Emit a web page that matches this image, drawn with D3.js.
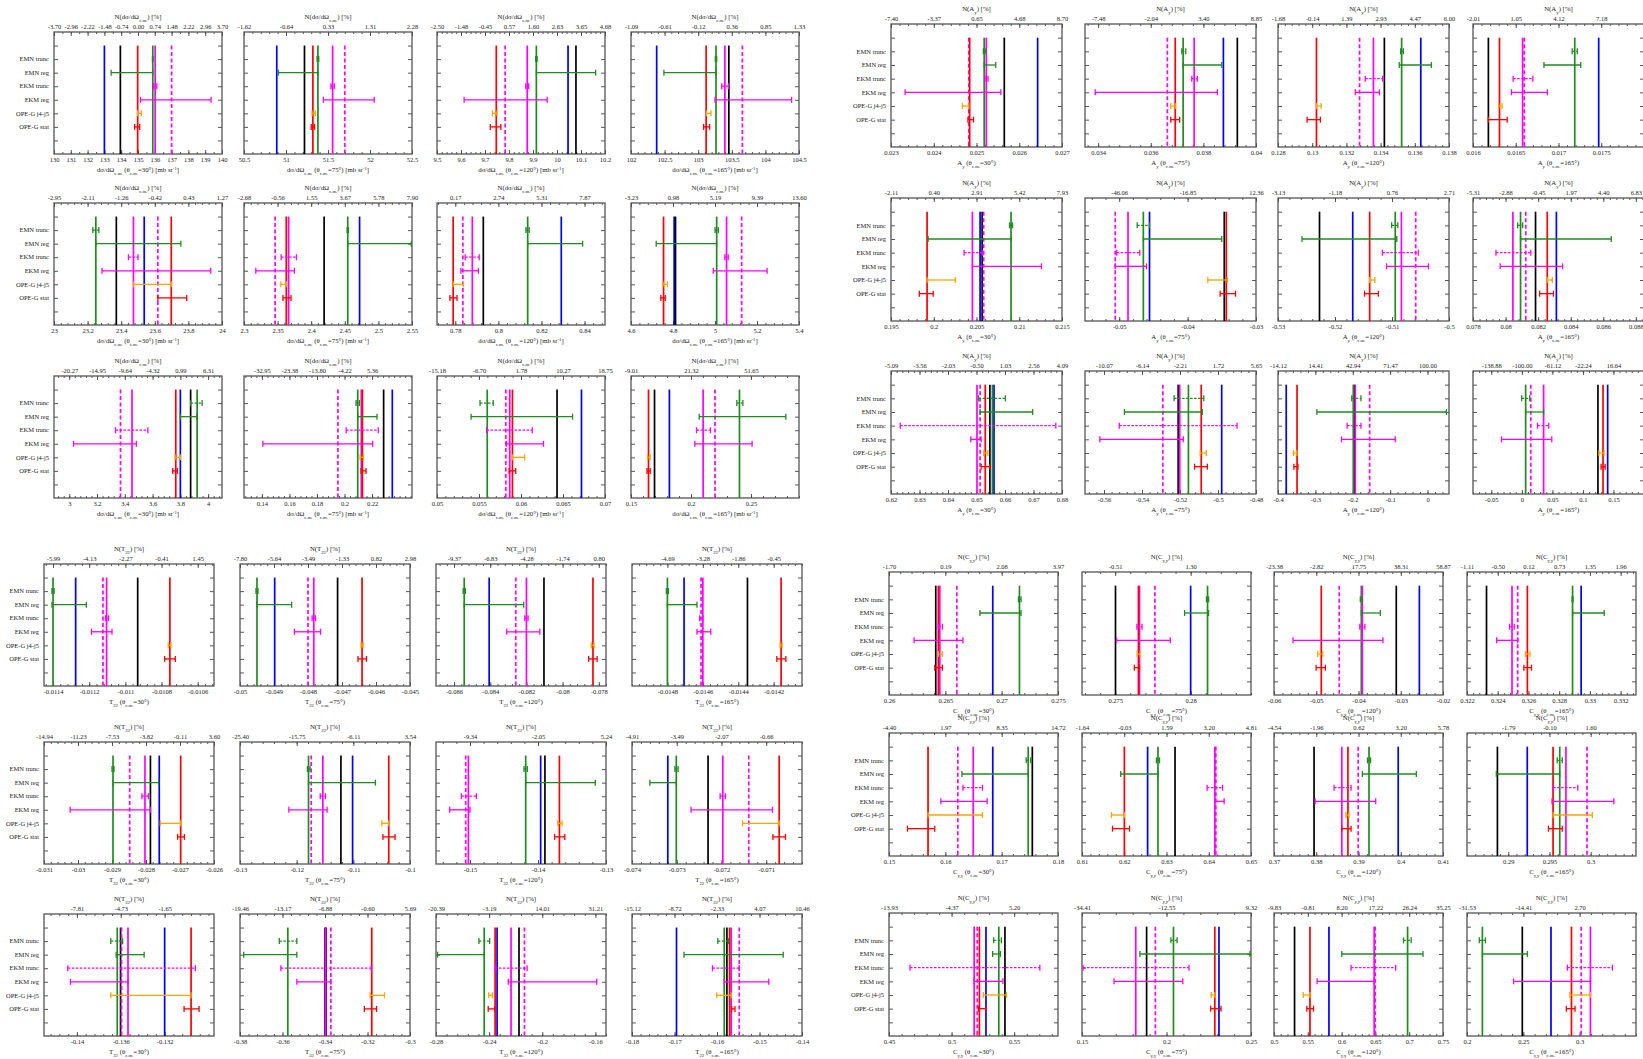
<!DOCTYPE html>
<html>
<head>
<meta charset="utf-8">
<script src="https://cdn.jsdelivr.net/npm/d3@7"></script>
<style>
body{margin:0;background:#fff;}
</style>
</head>
<body>
<svg id="fig"></svg>
<script>
var W=1643,H=1059;
var FONT="Liberation Serif, Times New Roman, serif";

var rowNames=["EMN trunc","EMN reg","EKM trunc","EKM reg","OPE-G j4-j5","OPE-G stat"];
var angles=[30,75,120,165];

// panel order: dsigma/dOmega rows 1-3, A_y rows 1-3, T22 rows 1-3, C_yy rows 1-3 (4 angles each)
var domains=[
 [130,140],[50.5,52.5],[9.5,10.2],[102,104.5],
 [23,24],[2.3,2.55],[0.7715,0.8495],[4.6,5.4],
 [2.89,4.1],[0.127,0.249],[0.05,0.07],[0.15,0.29],
 [0.023,0.027],[0.0335,0.04],[0.128,0.138],[0.016,0.018],
 [0.195,0.215],[-0.055,-0.03],[-0.53,-0.5],[0.078,0.0885],
 [0.62,0.68],[-0.57,-0.48],[-0.4,0.0575],[-0.08,0.2],
 [-0.01145,-0.01051],[-0.05,-0.045],[-0.087,-0.0776],[-0.015,-0.01404],
 [-0.031,-0.026],[-0.13,-0.1],[-0.155,-0.13],[-0.074,-0.0702],
 [-0.143,-0.1275],[-0.38,-0.3],[-0.28,-0.152],[-0.18,-0.14],
 [0.26,0.275],[0.2728,0.284],[-0.06,-0.02],[0.322,0.333],
 [0.15,0.18],[0.61,0.65],[0.37,0.41],[0.285,0.3055],
 [0.45,0.585],[0.15,0.25],[0.5,0.75],[0.2,0.35]
];

var ticks=[
 [130,131,132,133,134,135,136,137,138,139,140],[50.5,51,51.5,52,52.5],[9.5,9.6,9.7,9.8,9.9,10,10.1,10.2],[102,102.5,103,103.5,104,104.5],
 [23,23.2,23.4,23.6,23.8,24],[2.3,2.35,2.4,2.45,2.5,2.55],[0.78,0.8,0.82,0.84],[4.6,4.8,5,5.2,5.4],
 [3,3.2,3.4,3.6,3.8,4],[0.14,0.16,0.18,0.2,0.22],[0.05,0.055,0.06,0.065,0.07],[0.15,0.2,0.25],
 [0.023,0.024,0.025,0.026,0.027],[0.034,0.036,0.038,0.04],[0.128,0.13,0.132,0.134,0.136,0.138],[0.016,0.0165,0.017,0.0175],
 [0.195,0.2,0.205,0.21,0.215],[-0.05,-0.04,-0.03],[-0.53,-0.52,-0.51,-0.5],[0.078,0.08,0.082,0.084,0.086,0.088],
 [0.62,0.63,0.64,0.65,0.66,0.67,0.68],[-0.56,-0.54,-0.52,-0.5,-0.48],[-0.4,-0.3,-0.2,-0.1,0],[-0.05,0,0.05,0.1,0.15],
 [-0.0114,-0.0112,-0.011,-0.0108,-0.0106],[-0.05,-0.049,-0.048,-0.047,-0.046,-0.045],[-0.086,-0.084,-0.082,-0.08,-0.078],[-0.0148,-0.0146,-0.0144,-0.0142],
 [-0.031,-0.03,-0.029,-0.028,-0.027,-0.026],[-0.13,-0.12,-0.11,-0.1],[-0.15,-0.14,-0.13],[-0.074,-0.073,-0.072,-0.071],
 [-0.14,-0.136,-0.132],[-0.38,-0.36,-0.34,-0.32,-0.3],[-0.28,-0.24,-0.2,-0.16],[-0.18,-0.17,-0.16,-0.15,-0.14],
 [0.26,0.265,0.27,0.275],[0.275,0.28],[-0.06,-0.05,-0.04,-0.03,-0.02],[0.322,0.324,0.326,0.328,0.33,0.332],
 [0.15,0.16,0.17,0.18],[0.61,0.62,0.63,0.64,0.65],[0.37,0.38,0.39,0.4,0.41],[0.29,0.295,0.3],
 [0.45,0.5,0.55],[0.15,0.2,0.25],[0.5,0.55,0.6,0.65,0.7,0.75],[0.2,0.25,0.3]
];

// reference value for the N(...) [%] axis on top
var refs=[
 135.0,51.33,9.744,103.124, 23.699,2.3633,0.77868,4.7535, 3.7626,0.20881,0.058948,0.16485,
 0.024838,0.036749,0.130187,0.016328, 0.199203,-0.034232,-0.51392,0.082374, 0.65325,-0.50877,-0.35051,0.1286,
 -0.010756,-0.046382,-0.078632,-0.014137, -0.02697,-0.10367,-0.137187,-0.070537, -0.129858,-0.3181,-0.23258,-0.15636,
 0.264496,0.27641,-0.04863,0.325614, 0.156904,0.62017,0.3876,0.29529, 0.52283,0.22869,0.55451,0.2921
];

var blueLine=[
 133.0,50.89,10.046,102.382, 23.537,2.472,0.8292,4.8055, 3.80,0.2347,0.0672,0.182,
 0.02643,0.03876,0.13635,0.01747, 0.20542,-0.04557,-0.51689,0.08312, 0.65614,-0.49806,-0.378,0.1405,
 -0.011275,-0.04898,-0.08406,-0.014706, -0.02761,-0.11013,-0.13961,-0.0732, -0.132,-0.3395,-0.234,-0.16953,
 0.26921,0.28,-0.02559,0.32943, 0.16842,0.62553,0.3994,0.29231, 0.52746,0.23104,0.5813,0.27455
];
var blackLine=[
 133.95,51.22,10.079,103.456, 23.371,2.4192,0.793,4.812, 3.874,0.2284,0.06429,0.1696,
 0.02565,0.03929,0.13422,0.01618, 0.20566,-0.03464,-0.52272,0.08184, 0.6547,-0.52096,-0.1959,0.1246,
 -0.010932,-0.04713,-0.08103,-0.014348, -0.02787,-0.11219,-0.13898,-0.0723, -0.13602,-0.34,-0.2175,-0.15767,
 0.26415,0.27502,-0.03106,0.32327, 0.17544,0.63202,0.37948,0.28869, 0.54262,0.18823,0.5304,0.24909
];
var redLine=[
 134.98,51.32,9.747,103.118, 23.698,2.3629,0.779,4.755, 3.767,0.213,0.05898,0.1646,
 0.02484,0.03693,0.13025,0.01631, 0.19922,-0.03434,-0.51392,0.08256, 0.65307,-0.50883,-0.349,0.1329,
 -0.010754,-0.04641,-0.07832,-0.014158, -0.02698,-0.10375,-0.13685,-0.07071, -0.12959,-0.318,-0.2355,-0.15703,
 0.26438,0.27654,-0.04881,0.32593, 0.15693,0.62003,0.3875,0.29544, 0.5222,0.22859,0.5532,0.29273
];
var greenLine=[
 135.88,51.38,9.914,103.265, 23.249,2.4544,0.8136,5.008, 3.921,0.2096,0.05598,0.2404,
 0.02518,0.03723,0.13523,0.01719, 0.20904,-0.04647,-0.50943,0.08092, 0.6556,-0.51557,-0.1986,0.0062,
 -0.0114,-0.0495,-0.08544,-0.0148, -0.02897,-0.11791,-0.14181,-0.07301, -0.13632,-0.3575,-0.2437,-0.1583,
 0.27158,0.28112,-0.03933,0.32887, 0.17471,0.62798,0.39249,0.29625, 0.5377,0.20413,0.6976,0.21364
];
var magLine=[
 136.02,51.555,9.876,103.397, 23.473,2.3664,0.7879,5.055, 3.452,0.2122,0.05866,0.2101,
 0.02523,0.03765,0.13358,0.01658, 0.20452,-0.04871,-0.50835,0.08045, 0.65018,-0.52015,-0.1932,0.0356,
 -0.011104,-0.04783,-0.082,-0.0146, -0.02803,-0.11538,-0.15024,-0.07197, -0.13534,-0.3398,-0.2235,-0.15666,
 0.26451,0.27661,-0.03909,0.32493, 0.16495,0.64144,0.38605,0.297, 0.51803,0.1818,0.6482,0.30955
];
var magDashLine=[
 137.0,51.70,9.784,103.657, 23.618,2.3463,0.7835,5.127, 3.369,0.1952,0.05819,0.22,
 0.02482,0.03663,0.13277,0.0166, 0.20584,-0.05058,-0.50584,0.08124, 0.65127,-0.52904,-0.1548,0.0146,
 -0.011124,-0.048,-0.08259,-0.01461, -0.02848,-0.11744,-0.15063,-0.07139, -0.13593,-0.33725,-0.2134,-0.15476,
 0.26602,0.27763,-0.04456,0.3253, 0.16222,0.64168,0.38993,0.29956, 0.52049,0.19343,0.6497,0.30136
];

var emnTrunc=[
 [135.86,135.9],[51.37,51.39],[9.911,9.917],[103.255,103.275],
 [23.231,23.267],[2.4535,2.4555],[0.8128,0.8143],[5.0,5.016],
 [3.874,3.957],[0.2084,0.2108],[0.05512,0.05669],[0.2382,0.2432],
 [0.02516,0.02522],[0.03718,0.03733],[0.13517,0.13533],[0.01716,0.01722],
 [0.20886,0.20922],[-0.04737,-0.04557],[-0.51006,-0.50898],[0.08074,0.08105],
 [0.65073,0.66013],[-0.52311,-0.50748],[-0.2027,-0.178],[-0.0003,0.0129],
 [-0.011406,-0.011394],[-0.04953,-0.04947],[-0.0855,-0.08538],[-0.014806,-0.014794],
 [-0.029,-0.02894],[-0.1181,-0.11763],[-0.14205,-0.14157],[-0.07304,-0.07297],
 [-0.13691,-0.13583],[-0.3615,-0.35325],[-0.2477,-0.2396],[-0.15981,-0.15729],
 [0.27149,0.27172],[0.28105,0.28119],[-0.03957,-0.03909],[0.32884,0.3289],
 [0.17435,0.17517],[0.62761,0.62835],[0.39213,0.39286],[0.29594,0.29656],
 [0.5336,0.53975],[0.2026,0.20627],[0.6915,0.7029],[0.21091,0.21636]
];
var emnReg=[
 [133.4,135.88],[50.91,51.38],[9.914,10.161],[102.49,103.265],
 [23.249,23.755],[2.4544,2.549],[0.8136,0.8391],[4.72,5.008],
 [3.80,3.919],[0.2096,0.2236],[0.05406,0.06614],[0.2068,0.279],
 [0.02518,0.02545],[0.03723,0.0387],[0.13509,0.13697],[0.01683,0.01726],
 [0.19934,0.20904],[-0.04647,-0.03501],[-0.52578,-0.50916],[0.08092,0.08649],
 [0.65127,0.6697],[-0.54925,-0.50829],[-0.2959,0.0507],[0.0062,0.0356],
 [-0.011406,-0.011216],[-0.0495,-0.04848],[-0.08544,-0.08215],[-0.0148,-0.014633],
 [-0.02897,-0.02763],[-0.11791,-0.1061],[-0.14181,-0.13157],[-0.0736,-0.07301],
 [-0.13642,-0.13387],[-0.37825,-0.35325],[-0.2788,-0.2437],[-0.16776,-0.14442],
 [0.26807,0.27172],[0.2796,0.28119],[-0.03933,-0.03483],[0.32887,0.33093],
 [0.16295,0.17471],[0.61917,0.62798],[0.39091,0.40368],[0.28856,0.29625],
 [0.53279,0.53893],[0.18425,0.24939],[0.6003,0.7204],[0.21364,0.25364]
];
var ekmTrunc=[
 [135.93,136.12],[51.535,51.575],[9.870,9.882],[103.35,103.45],
 [23.443,23.5],[2.3553,2.378],[0.7846,0.7911],[5.047,5.063],
 [3.333,3.566],[0.2012,0.2245],[0.0559,0.06134],[0.2046,0.2162],
 [0.0252,0.02527],[0.03756,0.03777],[0.1331,0.13412],[0.01647,0.0167],
 [0.20355,0.20572],[-0.05036,-0.04699],[-0.51168,-0.50539],[0.07941,0.08155],
 [0.62325,0.67783],[-0.55195,-0.48997],[-0.2151,-0.178],[0.0256,0.044],
 [-0.01111,-0.011093],[-0.04788,-0.04778],[-0.08209,-0.08191],[-0.014618,-0.0146],
 [-0.02812,-0.02793],[-0.11584,-0.11491],[-0.15126,-0.14906],[-0.07203,-0.07191],
 [-0.14083,-0.1292],[-0.36075,-0.31825],[-0.2356,-0.2114],[-0.16107,-0.15476],
 [0.26438,0.26474],[0.27644,0.27678],[-0.03969,-0.03848],[0.32477,0.32507],
 [0.16313,0.16659],[0.6396,0.64327],[0.38422,0.38824],[0.29544,0.29844],
 [0.4668,0.57049],[0.15061,0.2133],[0.614,0.6801],[0.28909,0.32909]
];
var ekmReg=[
 [135.15,139.35],[51.445,52.05],[9.613,9.959],[103.25,104.39],
 [23.286,23.933],[2.3176,2.375],[0.7826,0.7907],[4.992,5.248],
 [3.031,3.483],[0.1407,0.2204],[0.05827,0.06268],[0.2032,0.2509],
 [0.02333,0.02557],[0.03389,0.03853],[0.13252,0.13393],[0.01645,0.01687],
 [0.20452,0.2126],[-0.05058,-0.04602],[-0.51096,-0.5036],[0.07967,0.0835],
 [0.64801,0.65163],[-0.56218,-0.51826],[-0.2301,-0.0863],[-0.0333,0.049],
 [-0.011187,-0.011074],[-0.0484,-0.04763],[-0.08309,-0.08126],[-0.014633,-0.014555],
 [-0.03023,-0.02787],[-0.12137,-0.11463],[-0.15299,-0.15],[-0.07268,-0.07086],
 [-0.14059,-0.13534],[-0.35325,-0.33725],[-0.2256,-0.159],[-0.1583,-0.14782],
 [0.26223,0.26656],[0.27509,0.27865],[-0.0555,-0.03422],[0.32393,0.3253],
 [0.15921,0.16742],[0.64144,0.64364],[0.37973,0.39407],[0.29531,0.30281],
 [0.51803,0.54098],[0.16896,0.20963],[0.5638,0.6482],[0.24136,0.30955]
];
var opeJ45=[
 [134.98,135.2],[51.31,51.35],[9.731,9.75],[103.12,103.19],
 [23.473,23.698],[2.3548,2.3629],[0.779,0.7838],[4.752,4.774],
 [3.762,3.80],[0.2113,0.2137],[0.05898,0.06043],[0.1638,0.166],
 [0.02467,0.02482],[0.03676,0.03695],[0.13025,0.13052],[0.0163,0.01634],
 [0.19922,0.20253],[-0.03704,-0.03419],[-0.51392,-0.51302],[0.08256,0.08287],
 [0.65253,0.65398],[-0.50937,-0.50614],[-0.3589,-0.3493],[0.1262,0.1347],
 [-0.010763,-0.010748],[-0.04644,-0.04638],[-0.07841,-0.07826],[-0.014164,-0.014152],
 [-0.02758,-0.02698],[-0.10497,-0.10375],[-0.13709,-0.13646],[-0.07153,-0.07071],
 [-0.13691,-0.12959],[-0.31875,-0.312],[-0.2403,-0.2376],[-0.16006,-0.15666],
 [0.26438,0.26474],[0.27645,0.27665],[-0.04967,-0.04845],[0.3258,0.3261],
 [0.15693,0.16659],[0.61697,0.62003],[0.38702,0.38775],[0.29544,0.3002],
 [0.52541,0.54385],[0.22645,0.22859],[0.5433,0.5532],[0.29136,0.30955]
];
var opeStat=[
 [134.8,135.1],[51.30,51.34],[9.722,9.766],[103.08,103.17],
 [23.618,23.79],[2.358,2.370],[0.7775,0.7808],[4.742,4.763],
 [3.745,3.779],[0.212,0.2156],[0.05858,0.05937],[0.1633,0.166],
 [0.0248,0.02493],[0.03676,0.0371],[0.1297,0.13048],[0.01618,0.0164],
 [0.19831,0.19994],[-0.03524,-0.03299],[-0.51482,-0.51239],[0.08209,0.08294],
 [0.65163,0.6547],[-0.51233,-0.5056],[-0.3575,-0.3466],[0.1297,0.1364],
 [-0.010783,-0.010724],[-0.04653,-0.04628],[-0.07856,-0.07809],[-0.014182,-0.014131],
 [-0.02707,-0.02687],[-0.10478,-0.10263],[-0.13756,-0.13606],[-0.07085,-0.07057],
 [-0.13023,-0.12886],[-0.3215,-0.31575],[-0.2407,-0.2356],[-0.15653,-0.15577],
 [0.26406,0.26474],[0.27627,0.27661],[-0.05003,-0.04784],[0.3257,0.3262],
 [0.15328,0.15812],[0.61722,0.62125],[0.38605,0.38824],[0.29488,0.29656],
 [0.52131,0.52746],[0.22615,0.23226],[0.5486,0.5585],[0.28818,0.29591]
];

var GREEN="#1e8c1e",MAG="#ff00ff",RED="#ff0000",BLUE="#0000ff",ORANGE="#ffa500";

// layout of the four blocks of 3x4 panels
var blocks=[
 {q:"dsg",lefts:[54,244,437,631],w:168,tops:[32,203,376],h:122},
 {q:"A",lefts:[891,1085,1278,1473],w:171,tops:[24,198,371],h:123},
 {q:"T",lefts:[44,240,436,632],w:170,tops:[564,742,914],h:122},
 {q:"C",lefts:[889,1082,1274,1467],w:169,tops:[572,733,913],h:123}
];

var svg=d3.select("#fig").attr("width",W).attr("height",H);
svg.append("rect").attr("width",W).attr("height",H).attr("fill","#fff");

function symbol(q){
  if(q=="dsg") return [["d\u03c3/d\u03a9",""],["c.m.","sub"]];
  if(q=="A") return [["A",""],["y","sub"]];
  if(q=="T") return [["T",""],["22","sub"]];
  return [["C",""],["y,y","sub"]];
}
function topTitle(q){
  return [["N(",""]].concat(symbol(q)).concat([[") [%]",""]]);
}
function botTitle(q,a){
  var p=symbol(q).concat([[" (\u03b8",""],["c.m.","sub"],["="+a+"\u00b0)",""]]);
  if(q=="dsg") p=p.concat([[" [mb sr",""],["-1","sup"],["]",""]]);
  return p;
}
function rich(sel,parts,size){
  parts.forEach(function(p){
    var t=sel.append("tspan").text(p[0]);
    if(p[1]=="sub") t.attr("baseline-shift","sub").attr("font-size",size*0.7);
    if(p[1]=="sup") t.attr("baseline-shift","super").attr("font-size",size*0.7);
  });
}
function styleAxis(a){
  a.select(".domain").remove();
  a.selectAll("line").attr("stroke","#444").attr("stroke-width",0.9);
  a.selectAll("text").attr("font-family",FONT).attr("font-size",6.5).attr("fill","#222");
}

function panel(i,x0,y0,w,h,q,angle,names){
  var x=d3.scaleLinear().domain(domains[i]).range([x0,x0+w]);
  var y=d3.scaleLinear().domain([0,9]).range([y0,y0+h]);
  var g=svg.append("g");
  var t=ticks[i],step=t[1]-t[0],dd=domains[i],ref=refs[i];
  var nsub=Math.abs(x(t[1])-x(t[0]))<22?2:5;
  var ms=step/nsub,minor=[];
  for(var k=Math.ceil((dd[0]-t[0])/ms-1e-6);t[0]+k*ms<=dd[1]+ms*1e-6;k++) minor.push(t[0]+k*ms);
  var pct=function(v){return ((v-ref)/Math.abs(ref)*100).toFixed(2);};

  g.append("g").attr("transform","translate(0,"+(y0+h)+")")
   .call(d3.axisBottom(x).tickValues(minor).tickSize(-2).tickFormat("")).call(styleAxis);
  g.append("g").attr("transform","translate(0,"+(y0+h)+")")
   .call(d3.axisBottom(x).tickValues(t).tickSize(-4).tickPadding(3).tickFormat(String)).call(styleAxis);
  g.append("g").attr("transform","translate(0,"+y0+")")
   .call(d3.axisTop(x).tickValues(minor).tickSize(-2).tickFormat("")).call(styleAxis);
  g.append("g").attr("transform","translate(0,"+y0+")")
   .call(d3.axisTop(x).tickValues(t).tickSize(-4).tickPadding(3).tickFormat(pct)).call(styleAxis);
  var yt=[1,2,3,4,5,6,7,8];
  g.append("g").attr("transform","translate("+x0+",0)")
   .call(d3.axisLeft(y).tickValues(yt).tickSize(-4).tickFormat("")).call(styleAxis);
  g.append("g").attr("transform","translate("+(x0+w)+",0)")
   .call(d3.axisRight(y).tickValues(yt).tickSize(-4).tickFormat("")).call(styleAxis);

  g.append("rect").attr("x",x0).attr("y",y0).attr("width",w).attr("height",h)
   .attr("fill","none").attr("stroke","#555").attr("stroke-width",1.3);

  var lines=[[blueLine[i],BLUE,null],[blackLine[i],"#000",null],[greenLine[i],GREEN,null],
             [magLine[i],MAG,null],[magDashLine[i],MAG,"4,2.5"],[redLine[i],RED,null]];
  g.selectAll(".vl").data(lines).enter().append("line")
   .attr("x1",function(d){return x(d[0]);}).attr("x2",function(d){return x(d[0]);})
   .attr("y1",y(1)).attr("y2",y(9))
   .attr("stroke",function(d){return d[1];}).attr("stroke-width",1.7)
   .attr("stroke-dasharray",function(d){return d[2];});

  var bars=[[emnTrunc[i],GREEN,2,true],[emnReg[i],GREEN,3,false],[ekmTrunc[i],MAG,4,true],
            [ekmReg[i],MAG,5,false],[opeJ45[i],ORANGE,6,false],[opeStat[i],RED,7,false]];
  bars.forEach(function(b){
    var yy=y(b[2]),xa=x(b[0][0]),xb=x(b[0][1]);
    g.append("line").attr("x1",xa).attr("x2",xb).attr("y1",yy).attr("y2",yy)
     .attr("stroke",b[1]).attr("stroke-width",1.3).attr("stroke-dasharray",b[3]?"2.5,1.5":null);
    [xa,xb].forEach(function(xc){
      g.append("line").attr("x1",xc).attr("x2",xc).attr("y1",yy-3).attr("y2",yy+3)
       .attr("stroke",b[1]).attr("stroke-width",1.3);
    });
  });

  if(names){
    rowNames.forEach(function(n,r){
      g.append("text").attr("x",x0-5).attr("y",y(r+2)+2.2).attr("text-anchor","end")
       .attr("font-family",FONT).attr("font-size",6.5).attr("fill","#222").text(n);
    });
  }
  var tt=g.append("text").attr("x",x0+w/2).attr("y",y0-13).attr("text-anchor","middle")
   .attr("font-family",FONT).attr("font-size",6.8).attr("fill","#222");
  rich(tt,topTitle(q),6.8);
  var bt=g.append("text").attr("x",x0+w/2).attr("y",y0+h+18).attr("text-anchor","middle")
   .attr("font-family",FONT).attr("font-size",6.8).attr("fill","#222");
  rich(bt,botTitle(q,angle),6.8);
}

blocks.forEach(function(b,bi){
  b.tops.forEach(function(top,r){
    b.lefts.forEach(function(left,c){
      panel(bi*12+r*4+c,left,top,b.w,b.h,b.q,angles[c],c===0);
    });
  });
});
</script>
</body>
</html>
